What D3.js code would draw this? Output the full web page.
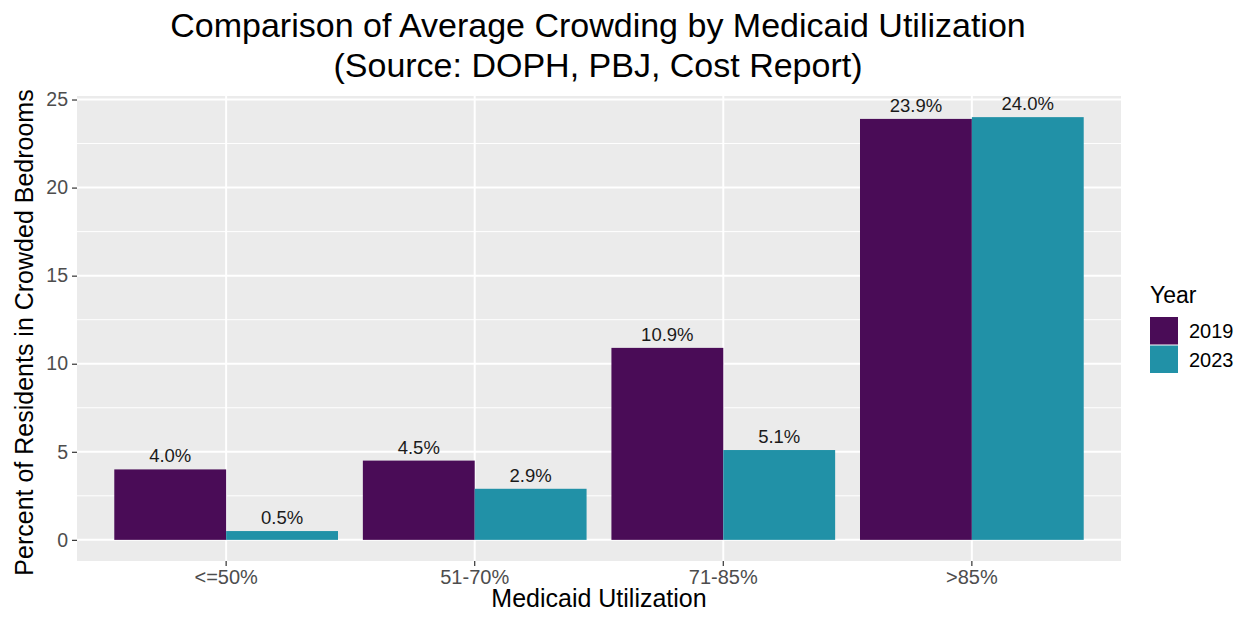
<!DOCTYPE html>
<html>
<head>
<meta charset="utf-8">
<script src="https://cdn.jsdelivr.net/npm/d3@7"></script>
<style>
  html, body { margin: 0; padding: 0; background: #ffffff; }
  svg { display: block; font-family: "Liberation Sans", Arial, sans-serif; }
</style>
</head>
<body>
<svg id="chart" width="1244" height="617"></svg>
<script>
// Crowding by Medicaid utilization band, 2019 vs 2023
const categories = ["<=50%", "51-70%", "71-85%", ">85%"];
const years = ["2019", "2023"];
const values2019 = [4.0, 4.5, 10.9, 23.9];
const values2023 = [0.5, 2.9, 5.1, 24.0];
const yTicks = [0, 5, 10, 15, 20, 25];
const yMinor = [2.5, 7.5, 12.5, 17.5, 22.5];
const yearColors = ["#4a0c57", "#2191a7"];

const rows = [];
categories.forEach((c, i) => {
  rows.push({ cat: c, year: years[0], value: values2019[i] });
  rows.push({ cat: c, year: years[1], value: values2023[i] });
});

const svg = d3.select("#chart");
const panel = { left: 77, right: 1121, top: 96, bottom: 561 };

const x = d3.scaleBand()
  .domain(categories)
  .range([panel.left, panel.right])
  .paddingInner(0.1)
  .paddingOuter(0.15);

const xYear = d3.scaleBand()
  .domain(years)
  .range([0, x.bandwidth()])
  .padding(0);

const maxV = d3.max(rows, d => d.value);
const pad = maxV * 0.05;
const y = d3.scaleLinear()
  .domain([-pad, maxV + pad])
  .range([panel.bottom, panel.top]);

const color = d3.scaleOrdinal().domain(years).range(yearColors);

// panel background
svg.append("rect")
  .attr("x", panel.left).attr("y", panel.top)
  .attr("width", panel.right - panel.left)
  .attr("height", panel.bottom - panel.top)
  .attr("fill", "#ebebeb");

// grid lines
const grid = svg.append("g");
grid.selectAll("line.minor").data(yMinor).join("line")
  .attr("x1", panel.left).attr("x2", panel.right)
  .attr("y1", d => y(d)).attr("y2", d => y(d))
  .attr("stroke", "#ffffff").attr("stroke-width", 1);
grid.selectAll("line.major").data(yTicks).join("line")
  .attr("x1", panel.left).attr("x2", panel.right)
  .attr("y1", d => y(d)).attr("y2", d => y(d))
  .attr("stroke", "#ffffff").attr("stroke-width", 2);
grid.selectAll("line.vmajor").data(categories).join("line")
  .attr("x1", d => x(d) + x.bandwidth() / 2).attr("x2", d => x(d) + x.bandwidth() / 2)
  .attr("y1", panel.top).attr("y2", panel.bottom)
  .attr("stroke", "#ffffff").attr("stroke-width", 2);

// bars
svg.append("g").selectAll("rect").data(rows).join("rect")
  .attr("x", d => x(d.cat) + xYear(d.year))
  .attr("width", xYear.bandwidth())
  .attr("y", d => y(d.value))
  .attr("height", d => y(0) - y(d.value))
  .attr("fill", d => color(d.year));

// value labels
svg.append("g").selectAll("text").data(rows).join("text")
  .attr("x", d => x(d.cat) + xYear(d.year) + xYear.bandwidth() / 2)
  .attr("y", d => y(d.value) - 7)
  .attr("text-anchor", "middle")
  .attr("font-size", 18.5)
  .attr("fill", "#1a1a1a")
  .text(d => d.value.toFixed(1) + "%");

// y axis
const yAxis = d3.axisLeft(y).tickValues(yTicks).tickSize(5).tickPadding(4);
const gy = svg.append("g").attr("transform", `translate(${panel.left},0)`).call(yAxis);
gy.select(".domain").remove();
gy.selectAll(".tick line").attr("stroke", "#333333").attr("stroke-width", 1.2);
gy.selectAll(".tick text").attr("font-size", 19.5).attr("fill", "#4d4d4d")
  .attr("font-family", "Liberation Sans, Arial, sans-serif");

// x axis
const xAxis = d3.axisBottom(x).tickSize(5).tickPadding(4);
const gx = svg.append("g").attr("transform", `translate(0,${panel.bottom})`).call(xAxis);
gx.select(".domain").remove();
gx.selectAll(".tick line").attr("stroke", "#333333").attr("stroke-width", 1.2);
gx.selectAll(".tick text").attr("font-size", 20).attr("fill", "#4d4d4d")
  .attr("font-family", "Liberation Sans, Arial, sans-serif");

// axis titles
svg.append("text")
  .attr("x", (panel.left + panel.right) / 2).attr("y", 607)
  .attr("text-anchor", "middle").attr("font-size", 25).attr("fill", "#000")
  .text("Medicaid Utilization");

svg.append("text")
  .attr("transform", `translate(33,${(panel.top + panel.bottom) / 2 + 4}) rotate(-90)`)
  .attr("text-anchor", "middle").attr("font-size", 25).attr("fill", "#000")
  .text("Percent of Residents in Crowded Bedrooms");

// title
const title = svg.append("text").attr("text-anchor", "middle")
  .attr("font-size", 34).attr("fill", "#000");
title.append("tspan").attr("x", 598).attr("y", 37)
  .text("Comparison of Average Crowding by Medicaid Utilization");
title.append("tspan").attr("x", 598).attr("y", 77)
  .text("(Source: DOPH, PBJ, Cost Report)");

// legend
const legend = svg.append("g").attr("transform", "translate(1150,0)");
legend.append("text").attr("x", 0).attr("y", 303)
  .attr("font-size", 23).attr("fill", "#000").text("Year");
const keys = legend.selectAll("g.key").data(years).join("g")
  .attr("transform", (d, i) => `translate(0,${317 + i * 28.5})`);
keys.append("rect").attr("width", 28).attr("height", 27.5)
  .attr("fill", d => color(d));
keys.append("text").attr("x", 39).attr("y", 21)
  .attr("font-size", 20).attr("fill", "#000").text(d => d);
</script>
</body>
</html>
